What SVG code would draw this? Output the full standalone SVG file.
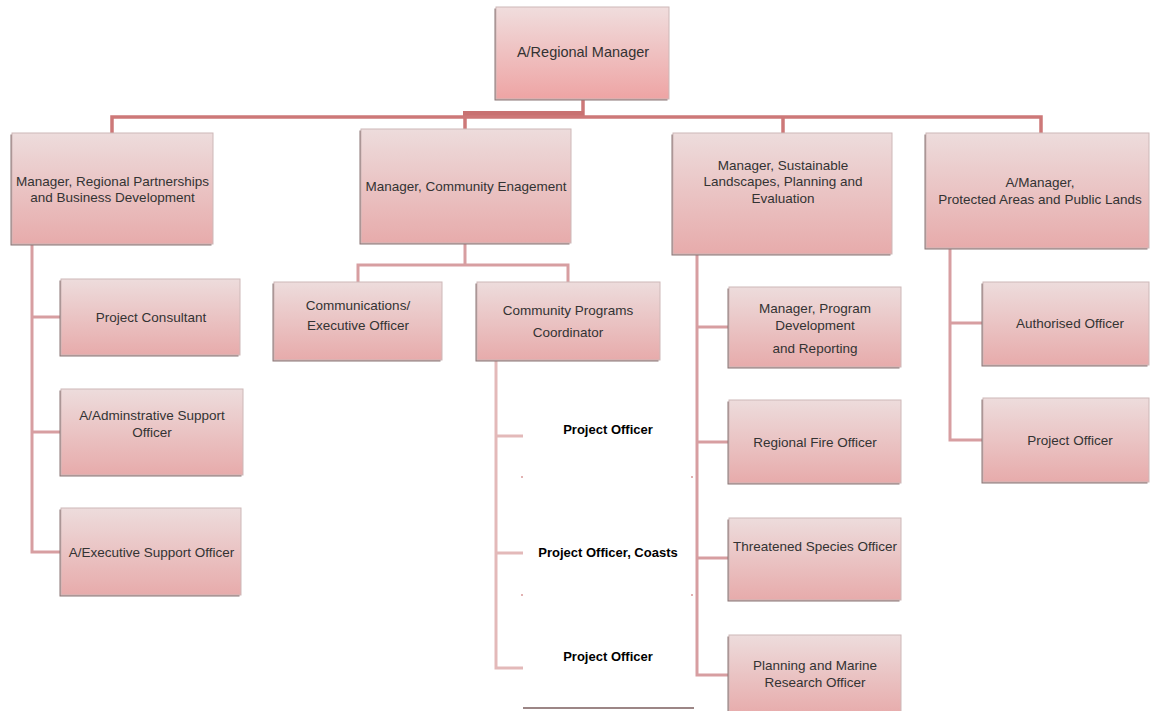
<svg xmlns="http://www.w3.org/2000/svg" width="1150" height="711" viewBox="0 0 1150 711">
<defs>
<linearGradient id="g" x1="0" y1="0" x2="0" y2="1">
<stop offset="0" stop-color="#eddcdc"/>
<stop offset="1" stop-color="#e7abab"/>
</linearGradient>
<linearGradient id="gt" x1="0" y1="0" x2="0" y2="1">
<stop offset="0" stop-color="#f0dddd"/>
<stop offset="1" stop-color="#eea4a4"/>
</linearGradient>
</defs>
<style>
.sh{fill:#8a7474}
.bx{fill:url(#g);stroke:#cdb8b8;stroke-width:1}
.bt{fill:url(#gt);stroke:#cdb8b8;stroke-width:1}
text{font-family:"Liberation Sans",Arial,sans-serif;font-size:13.5px;fill:#333;text-anchor:middle}
.t{font-size:14.5px}
.b{font-weight:bold;font-size:13px;fill:#000}
.c1{fill:none;stroke:#cd7878;stroke-width:3.5}
.c2{fill:none;stroke:#d79ea1;stroke-width:3}
.c3{fill:none;stroke:#e3b9b9;stroke-width:3}
</style>
<rect width="1150" height="711" fill="#fff"/>
<g id="connectors">
<path class="c1" d="M583 99V117"/>
<rect x="463" y="111" width="121" height="7" fill="#c87272"/>
<path class="c1" d="M112 134V117H1041V134"/>
<path class="c1" d="M465 117V129"/>
<path class="c1" d="M783 117V133"/>
<path class="c2" d="M465 243V265M358 282V265H568V282"/>
<path class="c2" d="M32 244V552H61M32 317H61M32 432H61"/>
<path class="c3" d="M496 360V668H523M496 436H523M496 553H523"/>
<path class="c2" d="M697 254V675H729M697 327H729M697 442H729M697 558H729"/>
<path class="c2" d="M950 248V440H983M950 323H983"/>
<g fill="#e2b2b2">
<rect x="521" y="476" width="2" height="2"/><rect x="691" y="476" width="2" height="2"/>
<rect x="521" y="594" width="2" height="2"/><rect x="691" y="594" width="2" height="2"/>
</g>
<path d="M523 708H694" stroke="#9c8686" stroke-width="2"/>
</g>
<g id="n-regional-manager">
<rect class="sh" x="494.5" y="8.5" width="173" height="92"/>
<rect class="bt" x="496" y="7" width="173" height="92"/>
<text class="t" x="583" y="57">A/Regional Manager</text>
</g>
<g id="n-partnerships">
<rect class="sh" x="10.5" y="134.5" width="201" height="111"/>
<rect class="bx" x="12" y="133" width="201" height="111"/>
<text x="112.5" y="186">Manager, Regional Partnerships</text>
<text x="112.5" y="202">and Business Development</text>
</g>
<g id="n-community-engagement">
<rect class="sh" x="359.5" y="130.5" width="210" height="114"/>
<rect class="bx" x="361" y="129" width="210" height="114"/>
<text x="466" y="191">Manager, Community Enagement</text>
</g>
<g id="n-sustainable">
<rect class="sh" x="671.5" y="134.5" width="219" height="121"/>
<rect class="bx" x="673" y="133" width="219" height="121"/>
<text x="783" y="170">Manager, Sustainable</text>
<text x="783" y="186">Landscapes, Planning and</text>
<text x="783" y="203">Evaluation</text>
</g>
<g id="n-protected">
<rect class="sh" x="924.5" y="134.5" width="223" height="115"/>
<rect class="bx" x="926" y="133" width="223" height="115"/>
<text x="1040" y="187">A/Manager,</text>
<text x="1040" y="204">Protected Areas and Public Lands</text>
</g>
<g id="n-communications">
<rect class="sh" x="272.5" y="283.5" width="168" height="78"/>
<rect class="bx" x="274" y="282" width="168" height="78"/>
<text x="358" y="310">Communications/</text>
<text x="358" y="330">Executive Officer</text>
</g>
<g id="n-cpc">
<rect class="sh" x="475.5" y="283.5" width="183" height="78"/>
<rect class="bx" x="477" y="282" width="183" height="78"/>
<text x="568" y="315">Community Programs</text>
<text x="568" y="337">Coordinator</text>
</g>
<g id="n-project-consultant">
<rect class="sh" x="59.5" y="280.5" width="179" height="76"/>
<rect class="bx" x="61" y="279" width="179" height="76"/>
<text x="151" y="322">Project Consultant</text>
</g>
<g id="n-admin-support">
<rect class="sh" x="59.5" y="390.5" width="182" height="86"/>
<rect class="bx" x="61" y="389" width="182" height="86"/>
<text x="152" y="420">A/Adminstrative Support</text>
<text x="152" y="437">Officer</text>
</g>
<g id="n-exec-support">
<rect class="sh" x="59.5" y="509.5" width="180" height="87"/>
<rect class="bx" x="61" y="508" width="180" height="87"/>
<text x="151.5" y="557">A/Executive Support Officer</text>
</g>
<g id="n-po-1"><text class="b" x="608" y="434">Project  Officer</text></g>
<g id="n-po-coasts"><text class="b" x="608" y="557">Project Officer, Coasts</text></g>
<g id="n-po-2"><text class="b" x="608" y="661">Project Officer</text></g>
<g id="n-program-dev">
<rect class="sh" x="727.5" y="288.5" width="172" height="80"/>
<rect class="bx" x="729" y="287" width="172" height="80"/>
<text x="815" y="313">Manager, Program</text>
<text x="815" y="330">Development</text>
<text x="815" y="353">and Reporting</text>
</g>
<g id="n-fire">
<rect class="sh" x="727.5" y="401.5" width="172" height="83"/>
<rect class="bx" x="729" y="400" width="172" height="83"/>
<text x="815" y="447">Regional Fire Officer</text>
</g>
<g id="n-threatened">
<rect class="sh" x="727.5" y="519.5" width="172" height="82"/>
<rect class="bx" x="729" y="518" width="172" height="82"/>
<text x="815" y="551">Threatened Species Officer</text>
</g>
<g id="n-marine">
<rect class="sh" x="727.5" y="636.5" width="172" height="80"/>
<rect class="bx" x="729" y="635" width="172" height="80"/>
<text x="815" y="670">Planning and Marine</text>
<text x="815" y="687">Research Officer</text>
</g>
<g id="n-authorised">
<rect class="sh" x="981.5" y="283.5" width="166" height="83"/>
<rect class="bx" x="983" y="282" width="166" height="83"/>
<text x="1070" y="328">Authorised Officer</text>
</g>
<g id="n-project-officer">
<rect class="sh" x="981.5" y="399.5" width="166" height="84"/>
<rect class="bx" x="983" y="398" width="166" height="84"/>
<text x="1070" y="445">Project Officer</text>
</g>
</svg>
